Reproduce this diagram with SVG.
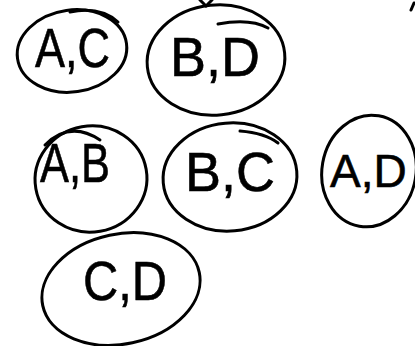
<svg xmlns="http://www.w3.org/2000/svg" width="415" height="346" viewBox="0 0 415 346">
<style>
.o{fill:none;stroke:#000;stroke-width:3;stroke-linecap:round}
.t{font-family:"Liberation Sans","DejaVu Sans",sans-serif;font-size:56px;fill:#000;stroke:#000;stroke-width:0.6}
.s{font-size:46px}
</style>
<rect width="415" height="346" fill="#fff"/>
<g id="marks">
<path class="o" d="M200 0 L206 6 L212 0"/>
<path class="o" d="M414 3 L411 10" stroke-width="2.5"/>
</g>
<g id="node-ac">
<ellipse class="o" cx="72" cy="51" rx="55" ry="41" transform="rotate(-8 72 51)"/>
<path class="o" d="M70 12 Q100 6 118 22" stroke-width="2"/>
<text class="t" x="35" y="67" textLength="75" lengthAdjust="spacingAndGlyphs">A,C</text>
</g>
<g id="node-bd">
<ellipse class="o" cx="216" cy="60" rx="69" ry="55" transform="rotate(-6 216 60)"/>
<path class="o" d="M218 24 Q250 18 268 28" stroke-width="2"/>
<text class="t" x="170" y="76" textLength="90" lengthAdjust="spacingAndGlyphs">B,D</text>
</g>
<g id="node-ab">
<ellipse class="o" cx="91" cy="179" rx="56" ry="53" transform="rotate(-10 91 179)"/>
<path class="o" d="M45 145 Q70 120 100 140" stroke-width="2"/>
<text class="t" x="40" y="182" textLength="70" lengthAdjust="spacingAndGlyphs">A,B</text>
</g>
<g id="node-bc">
<ellipse class="o" cx="230" cy="177" rx="67" ry="54" transform="rotate(-5 230 177)"/>
<path class="o" d="M240 131 Q265 133 278 143" stroke-width="2"/>
<text class="t" x="185" y="191" textLength="90" lengthAdjust="spacingAndGlyphs">B,C</text>
</g>
<g id="node-ad">
<ellipse class="o" cx="369" cy="171" rx="47" ry="56" transform="rotate(10 369 171)"/>
<text class="t s" x="330" y="187">A,D</text>
</g>
<g id="node-cd">
<ellipse class="o" cx="121" cy="289" rx="80" ry="55" transform="rotate(-12 121 289)"/>
<text class="t" x="83" y="300" textLength="84" lengthAdjust="spacingAndGlyphs">C,D</text>
</g>
<g id="connectors"></g>
</svg>
